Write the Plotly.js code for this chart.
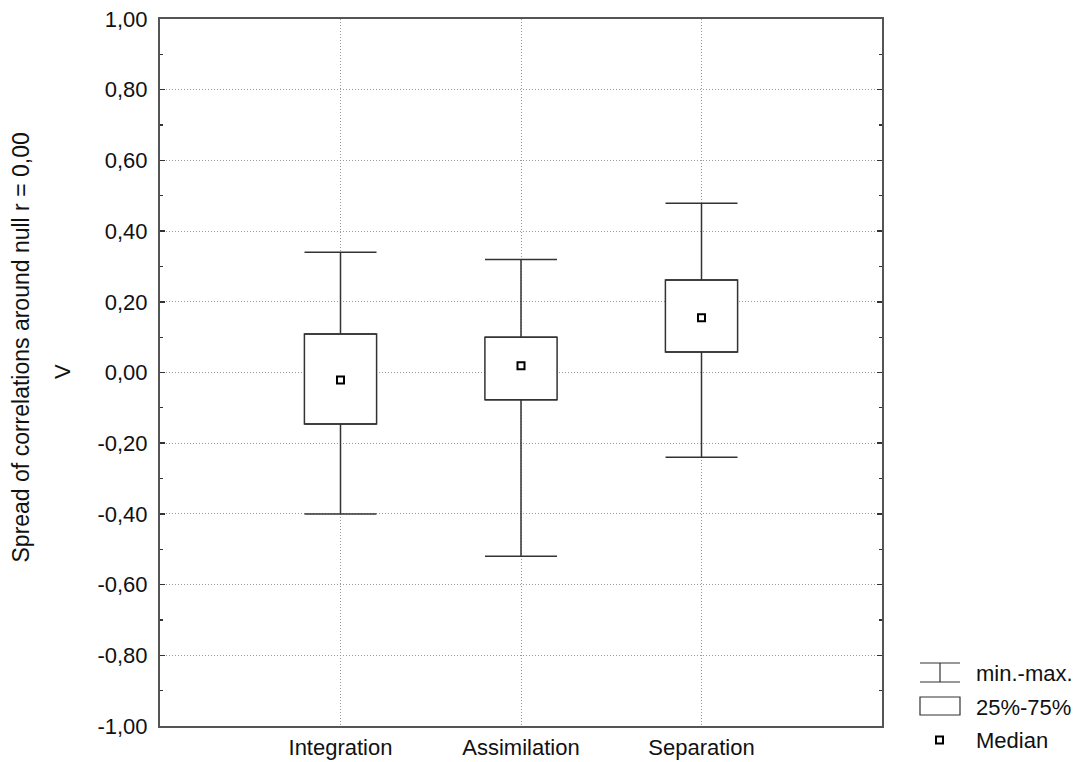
<!DOCTYPE html>
<html>
<head>
<meta charset="utf-8">
<script src="https://cdn.plot.ly/plotly-3.0.1.min.js"></script>
<style>html,body{margin:0;padding:0;background:#fff;}#chart{width:1077px;height:762px;}</style>
</head>
<body>
<div id="chart"></div>
<script>
// ---- data ----
const categories = ["Integration", "Assimilation", "Separation"];
const minVals    = [-0.40, -0.52, -0.24];
const q1Vals     = [-0.146, -0.077, 0.058];
const medianVals = [-0.021, 0.019, 0.155];
const q3Vals     = [0.109, 0.100, 0.262];
const maxVals    = [0.34, 0.32, 0.479];
const yTickVals  = [-1, -0.8, -0.6, -0.4, -0.2, 0, 0.2, 0.4, 0.6, 0.8, 1];
const yTickText  = ["-1,00", "-0,80", "-0,60", "-0,40", "-0,20", "0,00", "0,20", "0,40", "0,60", "0,80", "1,00"];
const yTitle = "Spread of correlations around null r = 0,00";
const yVarName = "V";
const legendLabels = ["min.-max.", "25%-75%", "Median"];

const xPos = categories.map((c, i) => i);
const lineCol = '#333';
const fontFam = '"Liberation Sans", Arial, sans-serif';

const boxes = {
  type: 'bar', x: xPos, base: q1Vals, y: q3Vals.map((v, i) => v - q1Vals[i]),
  width: 0.4, marker: {color: '#fff', line: {color: lineCol, width: 1.5}},
  hoverinfo: 'skip', showlegend: false
};
const upperWhisker = {
  type: 'scatter', mode: 'markers', x: xPos, y: q3Vals,
  marker: {size: 1, opacity: 0},
  error_y: {type: 'data', symmetric: false, array: maxVals.map((v, i) => v - q3Vals[i]),
            arrayminus: q3Vals.map(() => 0), width: 36, thickness: 1.5, color: lineCol},
  hoverinfo: 'skip', showlegend: false
};
const lowerWhisker = {
  type: 'scatter', mode: 'markers', x: xPos, y: q1Vals,
  marker: {size: 1, opacity: 0},
  error_y: {type: 'data', symmetric: false, array: q1Vals.map(() => 0),
            arrayminus: q1Vals.map((v, i) => v - minVals[i]), width: 36, thickness: 1.5, color: lineCol},
  hoverinfo: 'skip', showlegend: false
};
const medians = {
  type: 'scatter', mode: 'markers', x: xPos, y: medianVals,
  marker: {symbol: 'square', size: 7, color: '#fff', line: {color: '#000', width: 2}},
  showlegend: false
};

// plot area in pixels: left 160, right 882, top 19, bottom 726
const L = 160, R = 882, T = 19, B = 726;
const px = x => (x - L) / (R - L);
const py = y => (B - y) / (B - T);

const shapes = [
  {type: 'line', xref: 'paper', yref: 'paper', x0: px(920), x1: px(960), y0: py(663), y1: py(663), line: {color: lineCol, width: 1.2}},
  {type: 'line', xref: 'paper', yref: 'paper', x0: px(920), x1: px(960), y0: py(682), y1: py(682), line: {color: lineCol, width: 1.2}},
  {type: 'line', xref: 'paper', yref: 'paper', x0: px(940), x1: px(940), y0: py(663), y1: py(682), line: {color: lineCol, width: 1.2}},
  {type: 'rect', xref: 'paper', yref: 'paper', x0: px(920), x1: px(960), y0: py(697), y1: py(715), line: {color: lineCol, width: 1.2}, fillcolor: '#fff'},
  {type: 'rect', xref: 'paper', yref: 'paper', x0: px(936), x1: px(943), y0: py(736.5), y1: py(743.5), line: {color: '#000', width: 2}, fillcolor: '#fff'}
];

const annotations = [
  {xref: 'paper', yref: 'paper', x: px(20), y: py(347.5), text: yTitle, textangle: -90, showarrow: false,
   xanchor: 'center', yanchor: 'middle', font: {family: fontFam, size: 23, color: '#111'}},
  {xref: 'paper', yref: 'paper', x: px(62), y: py(372), text: yVarName, textangle: -90, showarrow: false,
   xanchor: 'center', yanchor: 'middle', font: {family: fontFam, size: 22, color: '#111'}},
  {xref: 'paper', yref: 'paper', x: px(974), y: py(673), text: legendLabels[0], showarrow: false,
   xanchor: 'left', yanchor: 'middle', font: {family: fontFam, size: 22, color: '#111'}},
  {xref: 'paper', yref: 'paper', x: px(974), y: py(707), text: legendLabels[1], showarrow: false,
   xanchor: 'left', yanchor: 'middle', font: {family: fontFam, size: 22, color: '#111'}},
  {xref: 'paper', yref: 'paper', x: px(974), y: py(740), text: legendLabels[2], showarrow: false,
   xanchor: 'left', yanchor: 'middle', font: {family: fontFam, size: 22, color: '#111'}}
];

const layout = {
  width: 1077, height: 762,
  margin: {l: L, r: 1077 - R, t: T, b: 762 - B, pad: 0},
  paper_bgcolor: '#fff', plot_bgcolor: '#fff',
  font: {family: fontFam, size: 22, color: '#111'},
  showlegend: false,
  bargap: 0,
  xaxis: {
    type: 'linear', range: [-1, 3], tickmode: 'array', tickvals: xPos, ticktext: categories,
    showgrid: true, gridcolor: '#999', griddash: '1px,2px', gridwidth: 1,
    zeroline: false, showline: true, linecolor: '#555', linewidth: 2, mirror: true,
    ticks: '', fixedrange: true, ticklabelstandoff: 1
  },
  yaxis: {
    range: [-1, 1], tickmode: 'array', tickvals: yTickVals, ticktext: yTickText,
    showgrid: true, gridcolor: '#999', griddash: '1px,2px', gridwidth: 1,
    zeroline: false, showline: true, linecolor: '#555', linewidth: 2, mirror: 'ticks',
    ticks: 'inside', ticklen: 5, tickcolor: '#333', tickwidth: 1.5,
    minor: {tickmode: 'linear', tick0: -1, dtick: 0.1, ticks: 'inside', ticklen: 3, tickcolor: '#333', tickwidth: 1.2, showgrid: false},
    fixedrange: true, ticklabelstandoff: 6
  },
  shapes: shapes,
  annotations: annotations
};

Plotly.newPlot('chart', [boxes, upperWhisker, lowerWhisker, medians], layout, {displayModeBar: false, staticPlot: true});
</script>
</body>
</html>
